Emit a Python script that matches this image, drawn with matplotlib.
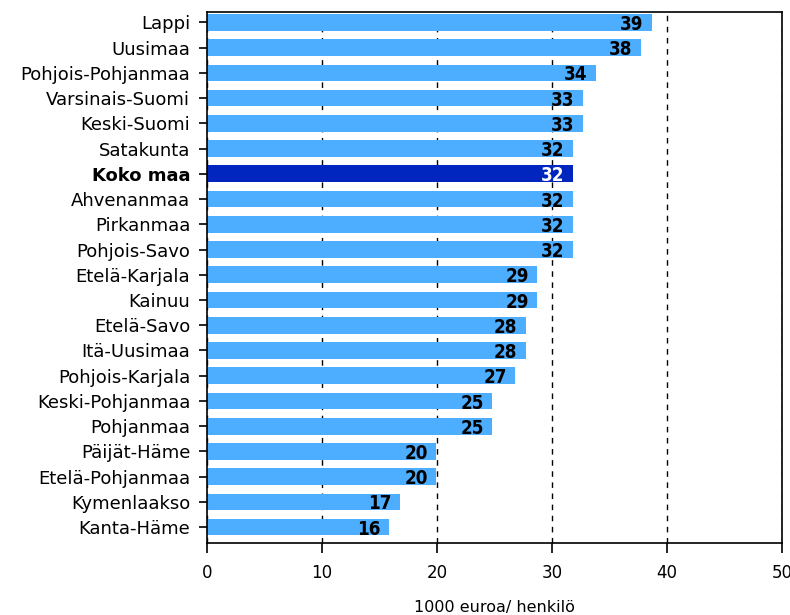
import matplotlib.pyplot as plt

# Alueet ja arvot (1000 euroa / henkilö)
alueet = ["Lappi", "Uusimaa", "Pohjois-Pohjanmaa", "Varsinais-Suomi", "Keski-Suomi",
          "Satakunta", "Koko maa", "Ahvenanmaa", "Pirkanmaa", "Pohjois-Savo",
          "Etelä-Karjala", "Kainuu", "Etelä-Savo", "Itä-Uusimaa", "Pohjois-Karjala",
          "Keski-Pohjanmaa", "Pohjanmaa", "Päijät-Häme", "Etelä-Pohjanmaa",
          "Kymenlaakso", "Kanta-Häme"]
arvot = [38.7, 37.7, 33.8, 32.7, 32.7, 31.8, 31.8, 31.8, 31.8, 31.8,
         28.7, 28.7, 27.7, 27.7, 26.8, 24.8, 24.8, 19.9, 19.9, 16.8, 15.8]
nimikkeet = ["39", "38", "34", "33", "33", "32", "32", "32", "32", "32",
             "29", "29", "28", "28", "27", "25", "25", "20", "20", "17", "16"]
x_ticks = [0, 10, 20, 30, 40, 50]

VAALEA = "#4dadff"
TUMMA = "#0026bf"

fig = plt.figure(figsize=(7.9, 6.15), dpi=100)
ax = fig.add_axes([0.262, 0.117, 0.728, 0.863])

y = list(range(len(alueet)))
varit = [TUMMA if a == "Koko maa" else VAALEA for a in alueet]
ax.barh(y, arvot, height=0.66, color=varit, zorder=2)

for i, (v, t) in enumerate(zip(arvot, nimikkeet)):
    col = "white" if alueet[i] == "Koko maa" else "black"
    ax.annotate(t, (v, i), xytext=(-6, -1.5), textcoords="offset points",
                ha="right", va="center", fontsize=13.5, fontweight="bold",
                fontstretch="condensed", color=col, zorder=3)

ax.set_xlim(0, 50)
ax.set_ylim(20.63, -0.4)
ax.set_xticks(x_ticks)
ax.set_xticklabels([str(t) for t in x_ticks], fontsize=12)
ax.set_yticks(y)
ax.set_yticklabels(alueet, fontsize=13)
for lab in ax.get_yticklabels():
    if lab.get_text() == "Koko maa":
        lab.set_fontweight("bold")

ax.tick_params(axis="y", length=6, width=1.2, direction="out", pad=6)
ax.tick_params(axis="x", length=7, width=1.2, direction="out", pad=8)
ax.xaxis.grid(True, linestyle=(0, (4, 4)), color="black", linewidth=1, zorder=0)
ax.set_axisbelow(True)
for s in ax.spines.values():
    s.set_linewidth(1.2)

ax.set_xlabel("1000 euroa/ henkilö", fontsize=11.5, labelpad=13)

fig.savefig("out.png", dpi=100)
